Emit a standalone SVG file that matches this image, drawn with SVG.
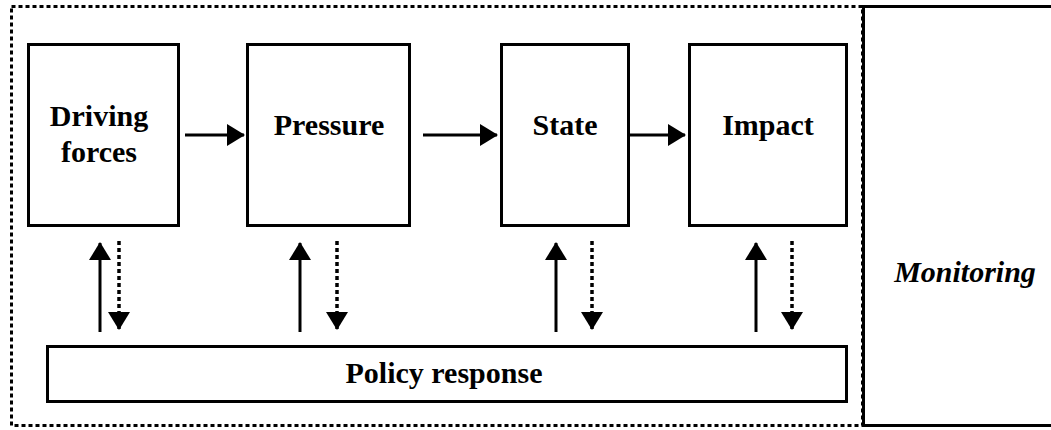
<svg xmlns="http://www.w3.org/2000/svg" width="1051" height="430" viewBox="0 0 1051 430">
  <defs>
    <style>
      .box { fill: #fff; stroke: #000; stroke-width: 3; }
      .frame { fill: none; stroke: #000; stroke-width: 3; stroke-dasharray: 4 3; }
      .solid { stroke: #000; stroke-width: 3; fill: none; }
      .dotted { stroke: #000; stroke-width: 3.5; fill: none; stroke-dasharray: 4 3; }
      .lbl { font-family: "Liberation Serif", "Times New Roman", serif; font-weight: bold; font-size: 30px; fill: #000; text-anchor: middle; }
      .ital { font-style: italic; }
    </style>
    <marker id="head" markerUnits="userSpaceOnUse" markerWidth="18" markerHeight="22" refX="17" refY="11" orient="auto">
      <polygon points="0,0 18,11 0,22" fill="#000"/>
    </marker>
  </defs>

  <!-- dotted system boundary -->
  <rect class="frame" x="11.5" y="6.5" width="851" height="419"/>

  <g id="monitoring">
    <path class="solid" d="M1053 6.5 H863.5 V425.5 H1053"/>
    <text class="lbl ital" x="965" y="282">Monitoring</text>
  </g>

  <g id="driving-forces">
    <rect class="box" x="28.5" y="44.5" width="150" height="181"/>
    <text class="lbl" x="99" y="126">Driving</text>
    <text class="lbl" x="99" y="162">forces</text>
  </g>

  <g id="pressure">
    <rect class="box" x="247.5" y="44.5" width="162" height="181"/>
    <text class="lbl" x="329" y="135">Pressure</text>
  </g>

  <g id="state">
    <rect class="box" x="501.5" y="44.5" width="127" height="181"/>
    <text class="lbl" x="565" y="135">State</text>
  </g>

  <g id="impact">
    <rect class="box" x="689.5" y="44.5" width="157" height="181"/>
    <text class="lbl" x="768" y="135">Impact</text>
  </g>

  <g id="policy-response">
    <rect class="box" x="47.5" y="346.5" width="799" height="55"/>
    <text class="lbl" x="444" y="383">Policy response</text>
  </g>

  <g id="connectors">
    <!-- causal chain -->
    <line class="solid" x1="185" y1="135" x2="244" y2="135" marker-end="url(#head)"/>
    <line class="solid" x1="423" y1="135" x2="497" y2="135" marker-end="url(#head)"/>
    <line class="solid" x1="629" y1="135" x2="685" y2="135" marker-end="url(#head)"/>

    <!-- policy feedback (solid up) and effects (dotted down) -->
    <line class="solid" x1="100" y1="332" x2="100" y2="243" marker-end="url(#head)"/>
    <line class="dotted" x1="119" y1="241" x2="119" y2="329" marker-end="url(#head)"/>

    <line class="solid" x1="300" y1="332" x2="300" y2="243" marker-end="url(#head)"/>
    <line class="dotted" x1="337" y1="241" x2="337" y2="329" marker-end="url(#head)"/>

    <line class="solid" x1="556" y1="332" x2="556" y2="243" marker-end="url(#head)"/>
    <line class="dotted" x1="592" y1="241" x2="592" y2="329" marker-end="url(#head)"/>

    <line class="solid" x1="756" y1="332" x2="756" y2="243" marker-end="url(#head)"/>
    <line class="dotted" x1="792" y1="241" x2="792" y2="329" marker-end="url(#head)"/>
  </g>
</svg>
